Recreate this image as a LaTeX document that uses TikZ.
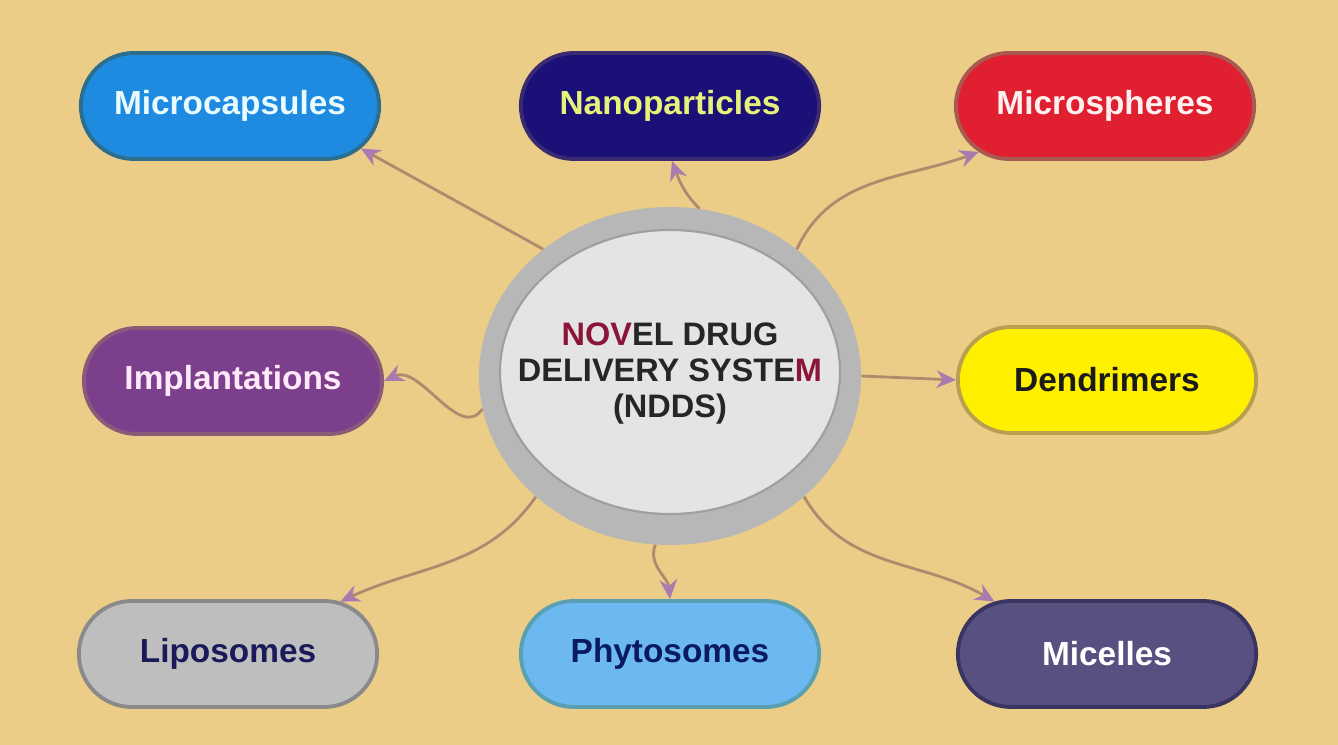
\documentclass[tikz,border=0pt]{standalone}
\usepackage{fontspec}
\setmainfont{Liberation Sans}
\usetikzlibrary{shapes.misc,shapes.geometric,arrows.meta}

\definecolor{bg}{HTML}{EBCD88}
\definecolor{linec}{HTML}{B08A6E}
\definecolor{tipc}{HTML}{A97BAE}
\definecolor{ringc}{HTML}{B7B7B7}
\definecolor{innerc}{HTML}{E4E4E4}
\definecolor{maroon}{HTML}{8B1538}
% box colours: fill / rim / text
\definecolor{mcapf}{HTML}{1E8AE0}\definecolor{mcapd}{HTML}{2C6E8C}\definecolor{mcapt}{HTML}{E8FBFF}
\definecolor{nanof}{HTML}{1B1078}\definecolor{nanod}{HTML}{3A2A70}\definecolor{nanot}{HTML}{E6F27A}
\definecolor{msphf}{HTML}{E01F30}\definecolor{msphd}{HTML}{A85A50}\definecolor{mspht}{HTML}{FFF0F0}
\definecolor{implf}{HTML}{7B3F8C}\definecolor{impld}{HTML}{8A5A78}\definecolor{implt}{HTML}{FFE8F8}
\definecolor{dendf}{HTML}{FFF000}\definecolor{dendd}{HTML}{B8A050}\definecolor{dendt}{HTML}{1A1A1A}
\definecolor{lipof}{HTML}{BEBEBE}\definecolor{lipod}{HTML}{8A8A8A}\definecolor{lipot}{HTML}{1A1A5A}
\definecolor{phytof}{HTML}{6CB8F0}\definecolor{phytod}{HTML}{5AA0B0}\definecolor{phytot}{HTML}{0A1A60}
\definecolor{micf}{HTML}{585080}\definecolor{micd}{HTML}{3A3560}

\begin{document}
\begin{tikzpicture}[
  pill/.style={rounded rectangle, minimum width=6.2cm, minimum height=2.12cm,
    line width=2.2pt, font=\fontsize{19}{22}\selectfont\bfseries},
  conn/.style={draw=linec, line width=1.6pt,
    -{Stealth[length=11pt,width=10pt,color=tipc,fill=tipc]}}
]
\fill[bg] (0,0) rectangle (26.76,14.9);
\useasboundingbox (0,0) rectangle (26.76,14.9);

% centre
\node[ellipse, minimum width=7.64cm, minimum height=6.76cm, fill=ringc] (ring) at (13.4,7.38) {};
\node[ellipse, minimum width=6.8cm, minimum height=5.68cm, fill=innerc,
  draw=gray!75, line width=1.2pt] (ndds) at (13.4,7.46) {};
\node[align=center, font=\fontsize{18.5}{20.5}\selectfont\bfseries, text=black!85]
  (title) at (13.4,7.42)
  {\textcolor{maroon}{NOV}EL DRUG\\DELIVERY SYSTE\textcolor{maroon}{M}\\(NDDS)};

% boxes
\node[pill, fill=mcapf, draw=mcapd, text=mcapt] (mcap) at (4.6,12.78) {Microcapsules};
\node[pill, fill=nanof, draw=nanod, text=nanot] (nano) at (13.4,12.78) {Nanoparticles};
\node[pill, fill=msphf, draw=msphd, text=mspht] (msph) at (22.1,12.78) {Microspheres};
\node[pill, fill=implf, draw=impld, text=implt] (impl) at (4.66,7.28) {Implantations};
\node[pill, fill=dendf, draw=dendd, text=dendt] (dend) at (22.14,7.3) {Dendrimers};
\node[pill, fill=lipof, draw=lipod, text=lipot] (lipo) at (4.56,1.82) {Liposomes};
\node[pill, fill=phytof, draw=phytod, text=phytot] (phyto) at (13.4,1.82) {Phytosomes};
\node[pill, fill=micf, draw=micd, text=white] (mic) at (22.14,1.82) {Micelles};

% arrows
\draw[conn] (ring.135) -- (mcap.-18);
\draw[conn] (ring.80) to[out=135,in=-70] (nano.-88);
\draw[conn] (ring.45) to[out=65,in=200] (msph.-160);
\draw[conn] (ring.0) -- (dend.180);
\draw[conn] (ring.190) to[out=235,in=25] (impl.0);
\draw[conn] (ring.222) to[out=235,in=25] (lipo.25);
\draw[conn] (ring.265) to[out=250,in=95] (phyto.90);
\draw[conn] (ring.318) to[out=-60,in=150] (mic.155);
\end{tikzpicture}
\end{document}
